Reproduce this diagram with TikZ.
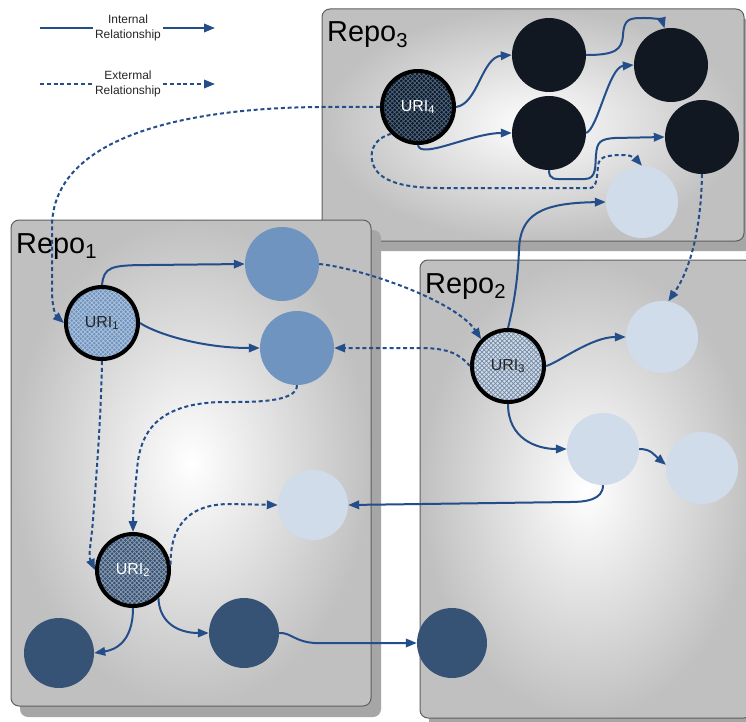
\documentclass[tikz,border=0pt]{standalone}
\usepackage{fontspec}
\setmainfont{Liberation Sans}
\usetikzlibrary{arrows.meta,patterns}

\definecolor{conn}{RGB}{35,78,138}
\definecolor{boxgray}{RGB}{192,192,192}
\definecolor{boxedge}{RGB}{95,95,95}
\definecolor{shadowgray}{RGB}{166,166,166}
\definecolor{inkdark}{RGB}{17,24,33}
\definecolor{paleblue}{RGB}{208,220,234}
\definecolor{steel}{RGB}{112,148,192}
\definecolor{navy}{RGB}{54,82,116}

% diagonal cross-hatching with a wider mesh than the stock one
\pgfdeclarepatternformonly{widehatch}{\pgfqpoint{-1pt}{-1pt}}{\pgfqpoint{5.5pt}{5.5pt}}{\pgfqpoint{4.5pt}{4.5pt}}{%
  \pgfsetlinewidth{0.7pt}%
  \pgfpathmoveto{\pgfqpoint{0pt}{0pt}}\pgfpathlineto{\pgfqpoint{4.6pt}{4.6pt}}%
  \pgfpathmoveto{\pgfqpoint{0pt}{4.6pt}}\pgfpathlineto{\pgfqpoint{4.6pt}{0pt}}%
  \pgfusepath{stroke}}

\tikzset{
  rel/.style={draw=conn, line width=2bp, -{Triangle[length=11bp,width=8.5bp]}},
  extrel/.style={rel, dash pattern=on 4bp off 2.8bp},
  plainrel/.style={draw=conn, line width=2bp},
  item/.style={circle, inner sep=0pt, minimum size=#1},
  item/.default=72bp,
  uri/.style={circle, inner sep=0pt, minimum size=72bp, draw=black, line width=4bp,
    pattern=widehatch, font=\fontsize{16}{16}\selectfont},
  repobox/.style={rounded corners=8bp, draw=boxedge, line width=1bp,
    inner color=white, outer color=boxgray},
  reposhadow/.style={rounded corners=8bp, fill=shadowgray},
  repolabel/.style={anchor=base west, inner sep=0pt, font=\fontsize{29}{29}\selectfont},
  legend/.style={align=center, inner ysep=0pt, inner xsep=2bp,
    font=\fontsize{12}{15}\selectfont, text=black!85},
}

\begin{document}
\begin{tikzpicture}[x=1bp,y=-1bp]
\useasboundingbox (0,0) rectangle (746,722);
\clip (0,0) rectangle (746,722);
\fill[white] (0,0) rectangle (746,722);

% repository boxes with drop shadows
\fill[reposhadow] (331,19) rectangle (753,251);
\shadedraw[repobox] (322,9) rectangle (744,241);
\fill[reposhadow] (20,230) rectangle (381,717);
\shadedraw[repobox] (11,220) rectangle (371,706);
\fill[reposhadow] (429,270) rectangle (760,732);
\shadedraw[repobox] (420,260) rectangle (752,718);

\node[repolabel] (r3lab) at (327,42) {Repo\textsubscript{3}};
\node[repolabel] (r1lab) at (16,253) {Repo\textsubscript{1}};
\node[repolabel] (r2lab) at (425,293) {Repo\textsubscript{2}};

% Repo 3 resources
\node[uri, preaction={fill=inkdark}, pattern color=steel!65!inkdark,
  text=white] (u4) at (418,107) {URI\textsubscript{4}};
\node[item=74bp, fill=inkdark] (k1) at (549,55) {};
\node[item=74bp, fill=inkdark] (k2) at (549,133) {};
\node[item=74bp, fill=inkdark] (k3) at (671,65) {};
\node[item=74bp, fill=inkdark] (k4) at (702,137) {};
\node[item, fill=paleblue] (l3) at (642,202) {};

% Repo 1 resources
\node[uri, preaction={fill=steel}, pattern color=white!45!steel,
  text=black!85] (u1) at (102,323) {URI\textsubscript{1}};
\node[item=74bp, fill=steel] (m1) at (282,264) {};
\node[item=74bp, fill=steel] (m2) at (297,348) {};
\node[uri, preaction={fill=navy}, pattern color=white!45!navy,
  text=white] (u2) at (133,570) {URI\textsubscript{2}};
\node[item=70bp, fill=paleblue] (l1) at (313,505) {};
\node[item=70bp, fill=navy] (n1) at (59,653) {};
\node[item=70bp, fill=navy] (n2) at (244,633) {};
\node[item=70bp, fill=navy] (n3) at (452,643) {};

% Repo 2 resources
\node[uri, preaction={fill=paleblue}, pattern color=navy!60!paleblue,
  text=black!85] (u3) at (508,366) {URI\textsubscript{3}};
\node[item, fill=paleblue] (l2a) at (662,337) {};
\node[item, fill=paleblue] (l2b) at (603,449) {};
\node[item, fill=paleblue] (l2c) at (702,468) {};

% internal relationships
\draw[rel] (u4.east) .. controls +(22,-3) and +(-30,2) .. (k1.west);
\draw[rel] (u4.south) .. controls +(2,15) and +(-40,0) .. (k2.west);
\draw[rel] (k1.east) .. controls (615,55) and (622,50) .. (623,35)
  .. controls (624,18) and (630,18) .. (645,18)
  .. controls (655,18) and (662,20) .. (k3.100);
\draw[rel] (k2.east) .. controls +(12,-5) and +(-25,2) .. (k3.west);
\draw[rel] (k2.south) .. controls +(0,10) and +(-10,0) .. (565,179) -- (585,179)
  .. controls (597,179) and (595,165) .. (596,155)
  .. controls (597,142) and (600,139) .. (615,138) -- (k4.west);
\draw[rel] (u3.north) .. controls (515,300) and (518,275) .. (519,250)
  .. controls (520,215) and (540,203) .. (l3.west);
\draw[rel] (u1.north) .. controls +(2,-18) and +(-40,0) .. (150,265) -- (m1.west);
\draw[rel] (u1.east) .. controls +(15,10) and +(-60,0) .. (m2.west);
\draw[rel] (u3.east) .. controls +(12,-3) and +(-35,0) .. (l2a.west);
\draw[rel] (u3.south) .. controls +(0,35) and +(-30,0) .. (l2b.west);
\draw[rel] (l2b.east) .. controls +(12,0) and +(-12,-10) .. (l2c.175);
\draw[rel] (l2b.south) .. controls +(0,15) and +(15,0) .. (570,502) -- (l1.east);
\draw[rel] (u2.south) .. controls +(0,35) and +(20,-3) .. (n1.east);
\draw[rel] (u2.-48) .. controls +(1,25) and +(-30,0) .. (n2.west);
\draw[rel] (n2.east) .. controls (290,632) and (295,642) .. (315,643) -- (n3.west);

% external relationships
\draw[extrel] (u4.west) -- (320,107) .. controls (190,108) and (52,135) .. (52,227)
  -- (52,290) .. controls (52,308) and (56,316) .. (u1.west);
\draw[extrel] (u4.-135) .. controls (375,138) and (370,150) .. (372,160)
  .. controls (375,180) and (400,188) .. (440,188) -- (590,188)
  .. controls (597,188) and (597,176) .. (598,166)
  .. controls (599,157) and (605,155) .. (625,155)
  .. controls (631,155) and (636,159) .. (l3.north);
\draw[extrel] (m1.east) .. controls (360,268) and (455,300) .. (u3.135);
\draw[extrel] (u3.west) .. controls (460,355) and (450,348) .. (420,348) -- (m2.east);
\draw[extrel] (m2.south) .. controls +(0,18) and +(30,0) .. (220,402)
  .. controls (165,404) and (140,425) .. (137,470)
  .. controls (135,490) and (133,510) .. (u2.north);
\draw[extrel] (u1.south) .. controls (101,420) and (96,480) .. (93,520)
  .. controls (91,545) and (88,555) .. (u2.west);
\draw[extrel] (u2.8) .. controls (170,530) and (185,504) .. (230,504) -- (l1.west);
\draw[extrel] (k4.south) .. controls (701,230) and (690,270) .. (l2a.80);

% legend
\node[legend] (intlab) at (128,28) {Internal\\Relationship};
\coordinate (int0) at (40,28);
\coordinate (int1) at (215,28);
\draw[plainrel] (int0) -- (intlab.west);
\draw[rel] (intlab.east) -- (int1);
\node[legend] (extlab) at (128,84) {Extermal\\Relationship};
\coordinate (ext0) at (40,84);
\coordinate (ext1) at (215,84);
\draw[plainrel, dash pattern=on 4bp off 2.8bp] (ext0) -- (extlab.west);
\draw[extrel] (extlab.east) -- (ext1);
\end{tikzpicture}
\end{document}
